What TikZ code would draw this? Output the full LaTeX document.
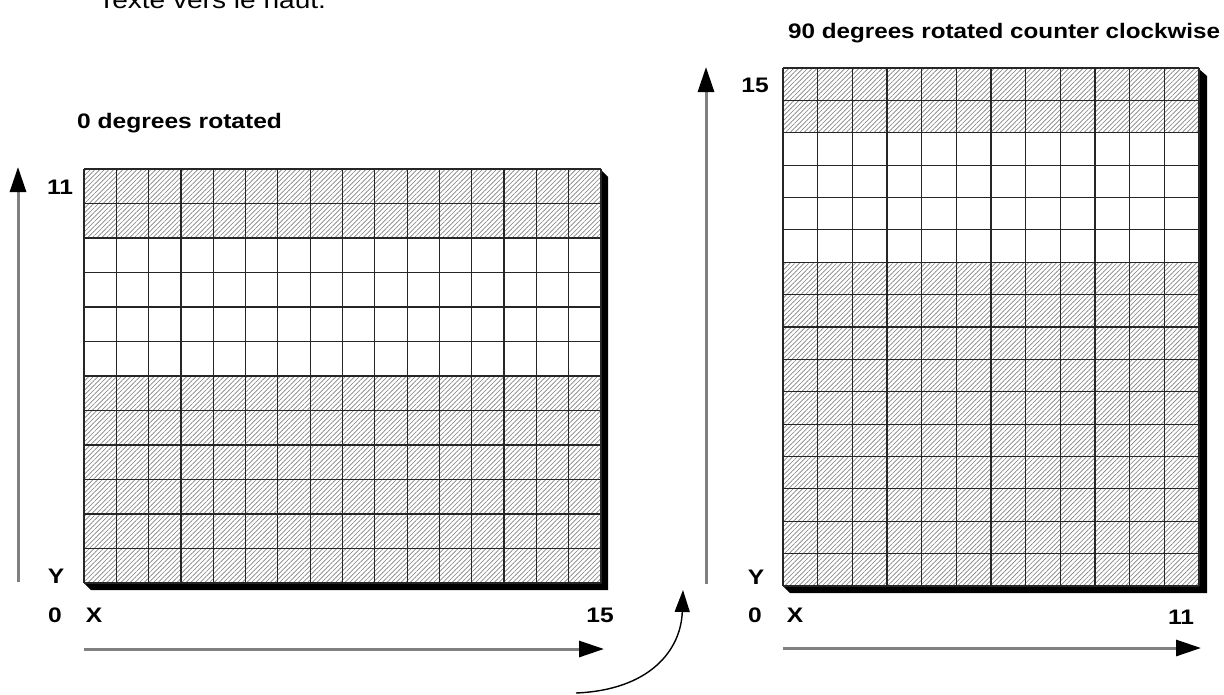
\documentclass[tikz,border=0pt]{standalone}
\usepackage{fontspec}
\setmainfont{Liberation Sans}
\usetikzlibrary{arrows.meta,patterns.meta}
\newcommand\widetxt[2][1.17]{\scalebox{#1}[1]{#2}}
\begin{document}
\begin{tikzpicture}[x=1pt,y=-1pt,
  gridline/.style={draw=black!85,line width=1.2pt},
  hatch/.style={pattern={Lines[angle=45,distance=3.3pt,line width=0.65pt]},pattern color=black!50},
  lbl/.style={font=\bfseries\fontsize{21}{21}\selectfont,inner sep=0pt},
  axis/.style={draw={rgb,255:red,128;green,128;blue,128},line width=3pt,-{Triangle[length=25pt,width=16pt,color=black]}},
  turn/.style={draw=black,line width=1.4pt,-{Triangle[length=22pt,width=15pt,color=black]}},
  shadow/.style={fill=black}]
\useasboundingbox (0,0) rectangle (1224,694);
% clipped heading at the very top
\node[font=\fontsize{24}{24}\selectfont,inner sep=0pt,anchor=base west] (head) at (98,8) {\widetxt{Texte vers le haut.}};

% ---------- left grid (16 x 12) ----------
\fill[shadow] (601,170) -- (608,177) -- (608,590) -- (91,590) -- (84,583) -- cycle;
\fill[white] (84,169) rectangle (601,583);
\fill[hatch] (84,169) rectangle (601,238);
\fill[hatch] (84,376) rectangle (601,583);
\foreach \i in {0,...,16} \draw[gridline] ({84+\i*32.3125},169) -- ({84+\i*32.3125},583);
\foreach \j in {0,...,12} \draw[gridline] (84,{169+\j*34.5}) -- (601,{169+\j*34.5});
\node[lbl,anchor=base west] (t0) at (77,128) {\widetxt{0 degrees rotated}};
\node[lbl] (l11) at (60,187) {\widetxt{11}};
\node[lbl] (lY) at (56,576) {\widetxt{Y}};
\node[lbl] (l0) at (55,615) {\widetxt{0}};
\node[lbl] (lX) at (94,615) {\widetxt{X}};
\node[lbl] (l15) at (600,615) {\widetxt{15}};
\coordinate (ly0) at (18,582);
\coordinate (ly1) at (18,167);
\coordinate (lx0) at (84,649);
\coordinate (lx1) at (604,649);
\draw[axis] (ly0) -- (ly1);
\draw[axis] (lx0) -- (lx1);

% ---------- curved arrow ----------
\coordinate (c0) at (576,693);
\coordinate (c1) at (683,590);
\draw[turn] (c0) .. controls (650,690) and (681,650) .. (c1);

% ---------- right grid (12 x 16) ----------
\fill[shadow] (1199,69) -- (1207,76) -- (1207,593) -- (790,593) -- (783,586) -- cycle;
\fill[white] (783,68) rectangle (1199,586);
\fill[hatch] (783,68) rectangle (1199,132.75);
\fill[hatch] (783,262.25) rectangle (1199,586);
\foreach \i in {0,...,12} \draw[gridline] ({783+\i*34.6667},68) -- ({783+\i*34.6667},586);
\foreach \j in {0,...,16} \draw[gridline] (783,{68+\j*32.375}) -- (1199,{68+\j*32.375});
\node[lbl,anchor=base west] (t90) at (788,38) {\widetxt[1.153]{90 degrees rotated counter clockwise}};
\node[lbl] (r15) at (755,85) {\widetxt{15}};
\node[lbl] (rY) at (756,577) {\widetxt{Y}};
\node[lbl] (r0) at (755,615) {\widetxt{0}};
\node[lbl] (rX) at (795,615) {\widetxt{X}};
\node[lbl] (r11) at (1181,617) {\widetxt{11}};
\coordinate (ry0) at (706,584);
\coordinate (ry1) at (706,67);
\coordinate (rx0) at (783,648);
\coordinate (rx1) at (1201,648);
\draw[axis] (ry0) -- (ry1);
\draw[axis] (rx0) -- (rx1);
\end{tikzpicture}
\end{document}
